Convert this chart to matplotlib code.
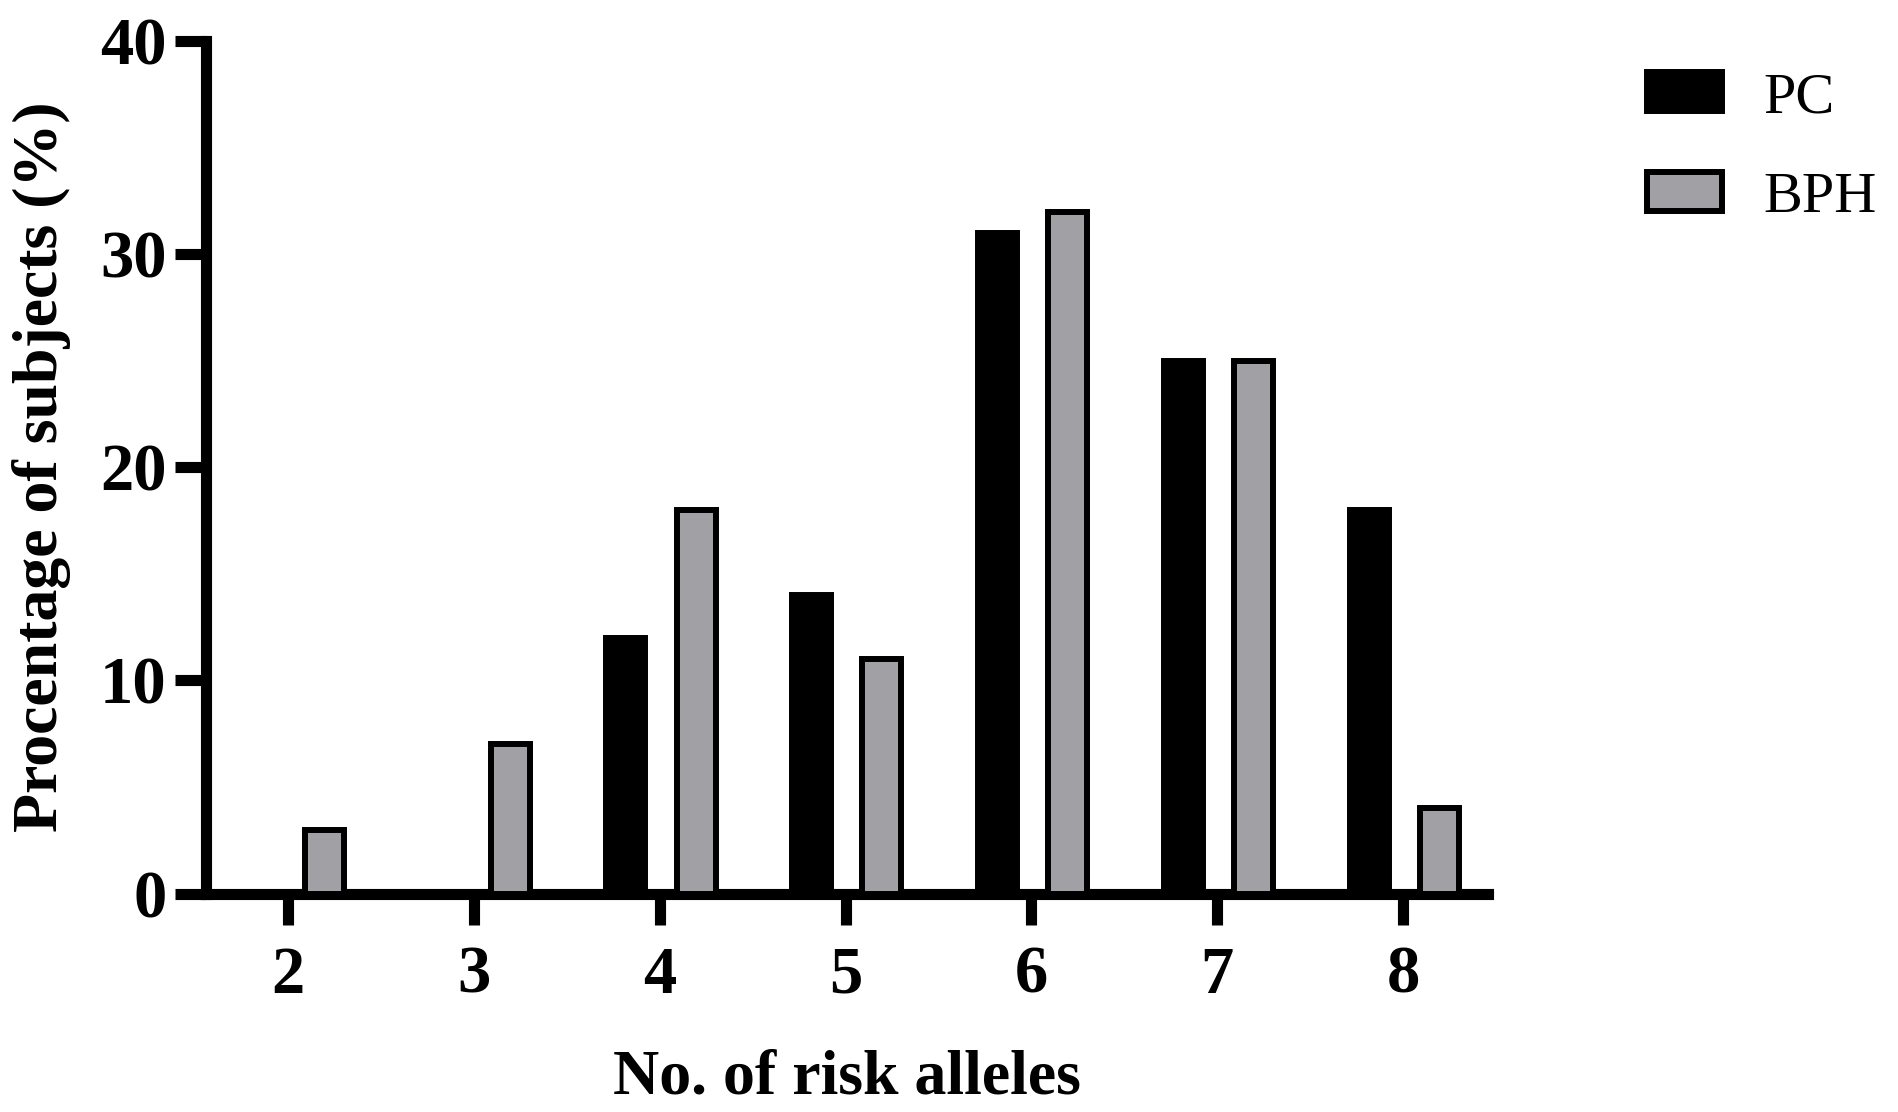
import matplotlib
matplotlib.use("Agg")
import matplotlib.pyplot as plt
import numpy as np

categories = [2, 3, 4, 5, 6, 7, 8]
pc_values = [0, 0, 12, 14, 31, 25, 18]
bph_values = [3, 7, 18, 11, 32, 25, 4]
y_ticks = [0, 10, 20, 30, 40]
series_names = ["PC", "BPH"]

SERIF = ["Liberation Serif", "DejaVu Serif"]
W, H, DPI = 1899, 1112, 100
fig = plt.figure(figsize=(W / DPI, H / DPI), dpi=DPI)
ax = fig.add_axes([206 / W, 1 - 893.5 / H, (1488 - 206) / W, (893.5 - 41) / H])

x = np.array(categories, dtype=float)
bw = 0.21
gray = "#a1a0a5"
b1 = ax.bar(x - 0.182, pc_values, width=bw, color="black", edgecolor="black",
            linewidth=4.3, label=series_names[0], zorder=3)
b2 = ax.bar(x + 0.195, bph_values, width=bw, color=gray, edgecolor="black",
            linewidth=4.3, label=series_names[1], zorder=3)

ax.set_xlim(1.558, 8.457)
ax.set_ylim(0, 40)
ax.set_xticks(categories)
ax.set_yticks(y_ticks)
ax.set_xticklabels([str(c) for c in categories])
ax.set_yticklabels([str(t) for t in y_ticks])

for s in ["top", "right"]:
    ax.spines[s].set_visible(False)
for s in ["left", "bottom"]:
    ax.spines[s].set_linewidth(8)
    ax.spines[s].set_capstyle("projecting")
ax.tick_params(axis="both", length=22.5, width=8, direction="out")
ax.tick_params(axis="x", pad=15)
ax.tick_params(axis="y", pad=6)
for lab in ax.get_xticklabels() + ax.get_yticklabels():
    lab.set_fontfamily(SERIF)
    lab.set_fontweight("bold")
    lab.set_fontsize(48)

fig.text(42 / W, 1 - 467 / H, "Procentage of subjects (%)", rotation=90,
         ha="center", va="center", fontfamily=SERIF, fontweight="bold", fontsize=46)
fig.text(847 / W, 1 - 1094 / H, "No. of risk alleles", ha="center", va="baseline",
         fontfamily=SERIF, fontweight="bold", fontsize=46)

leg = fig.legend(handles=[b1, b2], labels=series_names, loc="upper left",
                 bbox_to_anchor=(1647 / W, 1 - 72 / H), bbox_transform=fig.transFigure,
                 frameon=False, borderpad=0, borderaxespad=0,
                 handlelength=1.29, handleheight=0.66, handletextpad=0.7,
                 labelspacing=0.82, prop={"family": SERIF, "size": 42})

fig.savefig("out.png", dpi=DPI, facecolor="white")
